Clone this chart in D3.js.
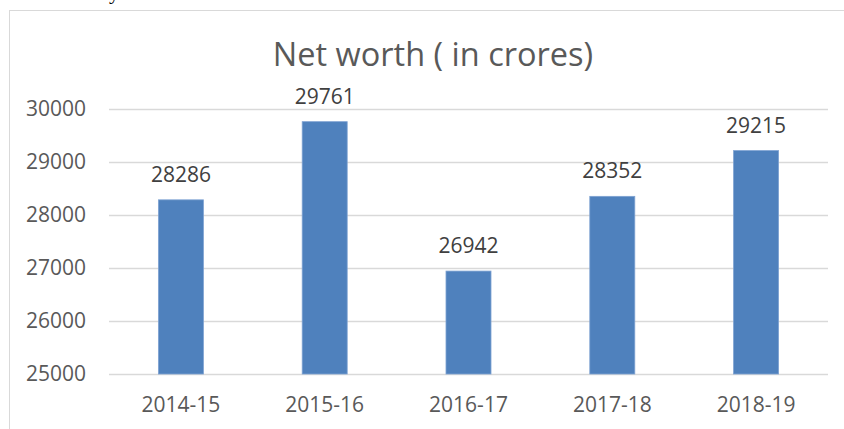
<!DOCTYPE html>
<html>
<head>
<meta charset="utf-8">
<script src="https://cdn.jsdelivr.net/npm/d3@7"></script>
<style>
  html, body { margin: 0; padding: 0; background: #fff; overflow: hidden; }
  svg { display: block; }
</style>
</head>
<body>
<div id="chart"></div>
<script>
// chart data
const years = ['2014-15', '2015-16', '2016-17', '2017-18', '2018-19'];
const netWorth = [28286, 29761, 26942, 28352, 29215];
const yTicks = [25000, 26000, 27000, 28000, 29000, 30000];
const title = 'Net worth ( in crores)';

const W = 844, H = 429;
const margin = { top: 109, right: 16, bottom: 55, left: 109 };
const width = W - margin.left - margin.right;
const height = H - margin.top - margin.bottom;

const svg = d3.select('#chart')
  .append('svg')
  .attr('width', W)
  .attr('height', H);

// bit of the document text cut off above the chart
svg.append('text')
  .attr('x', 109)
  .attr('y', -1)
  .style('font-family', '"Liberation Serif", serif')
  .style('font-size', '21px')
  .attr('fill', '#000')
  .text('y');

// chart area border (runs off the right and bottom)
svg.append('rect')
  .attr('x', 9.5)
  .attr('y', 10.5)
  .attr('width', 900)
  .attr('height', 500)
  .attr('fill', 'none')
  .attr('stroke', '#d9d9d9');

const g = svg.append('g')
  .attr('transform', `translate(${margin.left}, ${margin.top})`);

const x = d3.scaleBand()
  .domain(years)
  .range([0, width])
  .paddingInner(0.687)
  .paddingOuter(0.3435);

const y = d3.scaleLinear()
  .domain([25000, 30000])
  .range([height, 0]);

const font = '"Open Sans", sans-serif';

// title
svg.append('text')
  .attr('x', 433)
  .attr('y', 66)
  .attr('text-anchor', 'middle')
  .style('font-family', font)
  .style('font-size', '32.5px')
  .attr('fill', '#595959')
  .text(title);

// y axis + gridlines
const yAxis = g.append('g')
  .call(d3.axisLeft(y).tickValues(yTicks).tickSize(-width).tickPadding(23).tickFormat(d3.format('d')));
yAxis.select('.domain').remove();
yAxis.selectAll('.tick line').attr('stroke', '#d9d9d9').attr('stroke-width', 1.3);
yAxis.selectAll('.tick text')
  .style('font-family', font)
  .style('font-size', '21px')
  .attr('fill', '#595959');

// x axis labels
const xAxis = g.append('g')
  .attr('transform', `translate(0, ${height})`)
  .call(d3.axisBottom(x).tickSize(0).tickPadding(0));
xAxis.select('.domain').remove();
xAxis.selectAll('.tick text')
  .attr('y', 37.7)
  .attr('dy', null)
  .style('font-family', font)
  .style('font-size', '21px')
  .attr('fill', '#595959');

// bars
g.selectAll('.bar')
  .data(years)
  .enter()
  .append('rect')
  .attr('class', 'bar')
  .attr('x', (d) => x(d))
  .attr('width', x.bandwidth())
  .attr('y', (d, i) => y(netWorth[i]))
  .attr('height', (d, i) => height - y(netWorth[i]))
  .attr('fill', '#4f81bd')
  .attr('stroke', '#7ea2d2')
  .attr('stroke-width', 0.8);

// value labels
g.selectAll('.label')
  .data(years)
  .enter()
  .append('text')
  .attr('class', 'label')
  .attr('x', (d) => x(d) + x.bandwidth() / 2)
  .attr('y', (d, i) => y(netWorth[i]) - 18)
  .attr('text-anchor', 'middle')
  .style('font-family', font)
  .style('font-size', '21px')
  .attr('fill', '#404040')
  .text((d, i) => netWorth[i]);
</script>
</body>
</html>
